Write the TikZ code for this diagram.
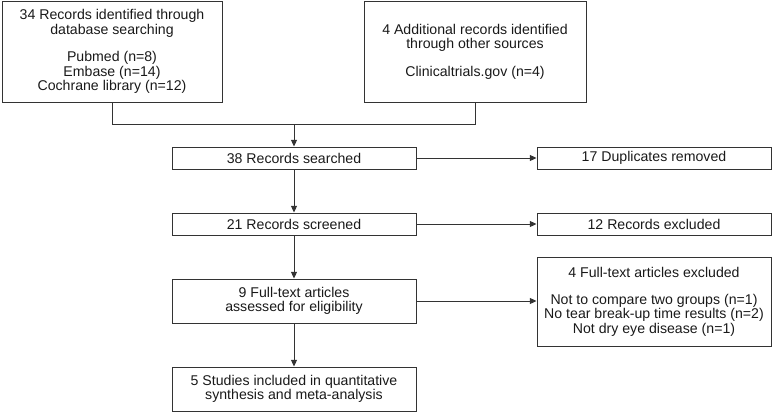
\documentclass[tikz,border=0pt]{standalone}
\usepackage{fontspec}
\setmainfont{Liberation Sans}
\usepackage{tikz}
\usetikzlibrary{arrows.meta, positioning, calc}

\begin{document}
\begin{tikzpicture}[x=0.75pt, y=-0.75pt,
    box/.style={rectangle, draw=black!80, line width=0.75pt, align=center, inner sep=0pt,
        font=\fontsize{10.6}{10.7}\selectfont, text=black!90},
    link/.style={draw=black!80, line width=0.75pt},
    arrow/.style={link, -{Triangle[length=5pt, width=4.5pt]}}
]
\useasboundingbox (0,0) rectangle (773,414);

\node[box, minimum width=220*0.75pt, minimum height=101*0.75pt] (srcdb) at (112,51.5)
    {34 Records identified through\\database searching\\[10pt]Pubmed (n=8)\\Embase (n=14)\\Cochrane library (n=12)};
\node[box, minimum width=222*0.75pt, minimum height=101*0.75pt] (srcother) at (475,51.5)
    {4 Additional records identified\\through other sources\\[10pt]Clinicaltrials.gov (n=4)};
\coordinate (merge) at (294,124);

\node[box, minimum width=244*0.75pt, minimum height=22*0.75pt] (searched) at (294,158) {38 Records searched};
\node[box, minimum width=234*0.75pt, minimum height=22*0.75pt] (dups) at (654,158) {17 Duplicates removed};
\node[box, minimum width=244*0.75pt, minimum height=22*0.75pt] (screened) at (294,224) {21 Records screened};
\node[box, minimum width=234*0.75pt, minimum height=22*0.75pt] (recexcl) at (654,224) {12 Records excluded};
\node[box, minimum width=244*0.75pt, minimum height=44*0.75pt] (fulltext) at (294,301) {9 Full-text articles\\assessed for eligibility};
\node[box, minimum width=234*0.75pt, minimum height=89*0.75pt] (ftexcl) at (654,301.5)
    {4 Full-text articles excluded\\[10pt]Not to compare two groups (n=1)\\No tear break-up time results (n=2)\\Not dry eye disease (n=1)};
\node[box, minimum width=244*0.75pt, minimum height=44*0.75pt] (included) at (294,389) {5 Studies included in quantitative\\synthesis and meta-analysis};

\draw[link] (srcdb.south) |- (merge);
\draw[link] (srcother.south) |- (merge);
\draw[arrow] (merge) -- (searched);
\draw[arrow] (searched) -- (screened);
\draw[arrow] (screened) -- (fulltext);
\draw[arrow] (fulltext) -- (included);
\draw[arrow] (searched) -- (dups);
\draw[arrow] (screened) -- (recexcl);
\draw[arrow] (fulltext) -- (ftexcl.west |- fulltext);

\end{tikzpicture}
\end{document}
